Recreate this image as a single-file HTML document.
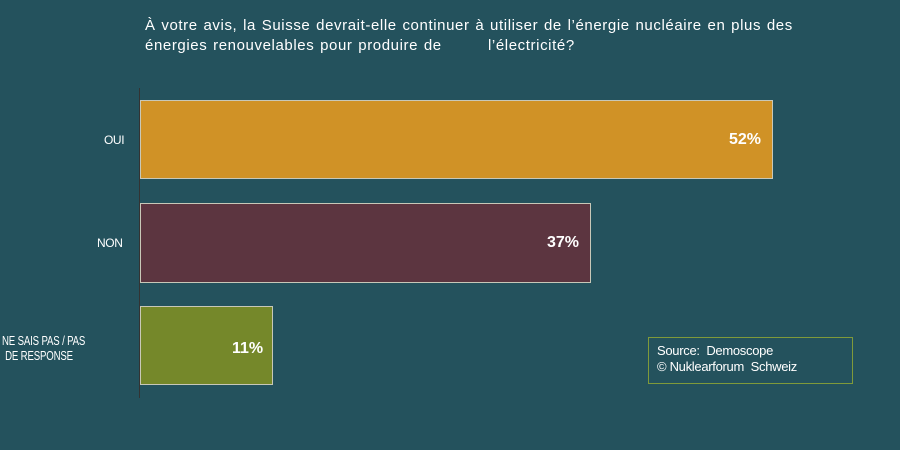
<!DOCTYPE html>
<html><head><meta charset="utf-8"><style>
body{margin:0;width:900px;height:450px;background:#24525d;position:relative;overflow:hidden;font-family:"Liberation Sans",sans-serif;color:#fff}
.t{position:absolute;font-size:15px;letter-spacing:0.6px;word-spacing:1px;white-space:pre;line-height:20px}
.bar{position:absolute;left:140px;border:1px solid #c8c8b8;box-sizing:border-box}
.v{position:absolute;font-weight:bold;font-size:16px;color:#fff}
.l{position:absolute;font-size:12px;letter-spacing:-0.4px;color:#fff;text-align:center}
</style></head><body>
<div class="t" style="left:145px;top:16px">À votre avis, la Suisse devrait-elle continuer à utiliser de l’énergie nucléaire en plus des</div>
<div class="t" style="left:145px;top:36px">énergies renouvelables pour produire de</div>
<div class="t" style="left:488px;top:36px">l’électricité?</div>
<div style="position:absolute;left:139px;top:88px;width:1px;height:310px;background:#333"></div>
<div class="bar" style="top:100px;width:633px;height:79px;background:#d09226"></div>
<div class="bar" style="top:203px;width:451px;height:80px;background:#5c3540"></div>
<div class="bar" style="top:306px;width:133px;height:79px;background:#75882a"></div>
<div class="v" style="left:729px;top:131px">52%</div>
<div class="v" style="left:547px;top:234px">37%</div>
<div class="v" style="left:232px;top:340px">11%</div>
<div class="l" style="left:104px;top:133px">OUI</div>
<div class="l" style="left:97px;top:236px">NON</div>
<div class="l" style="left:-11px;top:333px;width:100px;font-size:13px;letter-spacing:-0.2px;line-height:15px;transform:scaleX(0.74);white-space:nowrap">NE SAIS PAS / PAS<br>DE RESPONSE</div>
<div style="position:absolute;left:648px;top:337px;width:205px;height:47px;border:1px solid #7f9a3a;box-sizing:border-box;font-size:13px;letter-spacing:-0.3px;line-height:16px;padding:5px 0 0 8px">Source:&nbsp; Demoscope<br>© Nuklearforum&nbsp; Schweiz</div>
</body></html>
